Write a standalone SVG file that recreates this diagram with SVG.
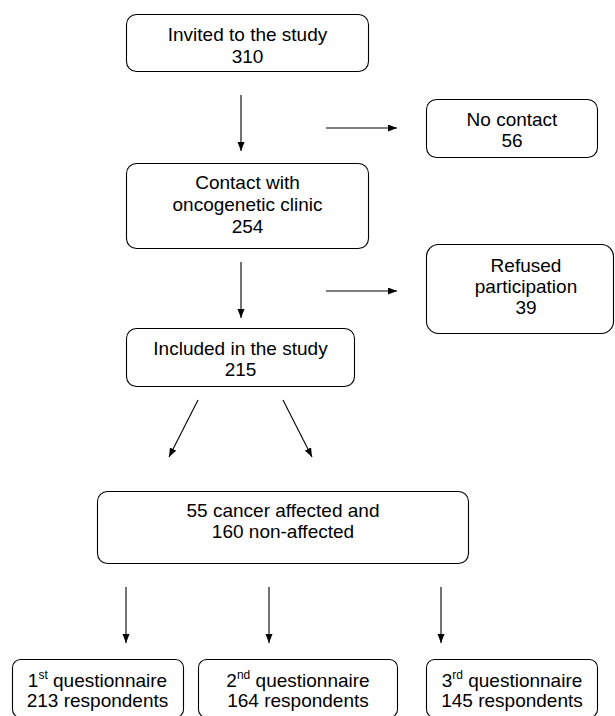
<svg xmlns="http://www.w3.org/2000/svg" width="615" height="716" viewBox="0 0 615 716">
<defs>
<style>
.box{fill:#fff;stroke:#000;stroke-width:1.1}
.t{font-family:"Liberation Sans",Arial,sans-serif;font-size:19px;fill:#000;text-anchor:middle}
.c line{stroke:#000;stroke-width:1.1;marker-end:url(#ah)}
</style>
<marker id="ah" markerUnits="userSpaceOnUse" markerWidth="10" markerHeight="8" refX="9" refY="3.5" orient="auto">
<path d="M0,0 L9,3.5 L0,7 z" fill="#000"/>
</marker>
</defs>
<rect width="615" height="716" fill="#fff"/>
<g id="connectors" class="c">
<line x1="241" y1="95" x2="241" y2="151"/>
<line x1="326" y1="128" x2="397" y2="128"/>
<line x1="241" y1="262" x2="241" y2="318"/>
<line x1="326" y1="291" x2="397" y2="291"/>
<line x1="198" y1="400" x2="169" y2="457"/>
<line x1="283" y1="400" x2="312" y2="457"/>
<line x1="126" y1="587" x2="126" y2="643"/>
<line x1="269" y1="587" x2="269" y2="643"/>
<line x1="441" y1="587" x2="441" y2="643"/>
</g>
<g id="invited">
<rect class="box" x="126.5" y="14.5" width="242" height="57" rx="10"/>
<text class="t" x="247.5" y="41">Invited to the study</text>
<text class="t" x="247.5" y="63">310</text>
</g>
<g id="nocontact">
<rect class="box" x="426.5" y="99.5" width="171" height="58" rx="10"/>
<text class="t" x="512" y="126">No contact</text>
<text class="t" x="512" y="147">56</text>
</g>
<g id="contact">
<rect class="box" x="126.5" y="163.5" width="242" height="85" rx="10"/>
<text class="t" x="247.5" y="189">Contact with</text>
<text class="t" x="247.5" y="211">oncogenetic clinic</text>
<text class="t" x="247.5" y="233">254</text>
</g>
<g id="refused">
<rect class="box" x="426.5" y="244.5" width="187" height="89" rx="12"/>
<text class="t" x="526" y="272">Refused</text>
<text class="t" x="526" y="293">participation</text>
<text class="t" x="526" y="314">39</text>
</g>
<g id="included">
<rect class="box" x="126.5" y="328.5" width="228" height="58" rx="10"/>
<text class="t" x="240.5" y="355">Included in the study</text>
<text class="t" x="240.5" y="376">215</text>
</g>
<g id="split">
<rect class="box" x="97.5" y="491.5" width="371" height="72" rx="10"/>
<text class="t" x="283" y="517">55 cancer affected and</text>
<text class="t" x="283" y="538">160 non-affected</text>
</g>
<g id="q1">
<rect class="box" x="12.5" y="659.5" width="171" height="58" rx="8"/>
<text class="t" x="97.5" y="687">1<tspan font-size="12" dy="-8">st</tspan><tspan dy="8"> questionnaire</tspan></text>
<text class="t" x="97.5" y="707">213 respondents</text>
</g>
<g id="q2">
<rect class="box" x="198.5" y="659.5" width="199" height="58" rx="8"/>
<text class="t" x="298" y="687">2<tspan font-size="12" dy="-8">nd</tspan><tspan dy="8"> questionnaire</tspan></text>
<text class="t" x="298" y="707">164 respondents</text>
</g>
<g id="q3">
<rect class="box" x="426.5" y="659.5" width="171" height="58" rx="8"/>
<text class="t" x="512" y="687">3<tspan font-size="12" dy="-8">rd</tspan><tspan dy="8"> questionnaire</tspan></text>
<text class="t" x="512" y="707">145 respondents</text>
</g>
</svg>
